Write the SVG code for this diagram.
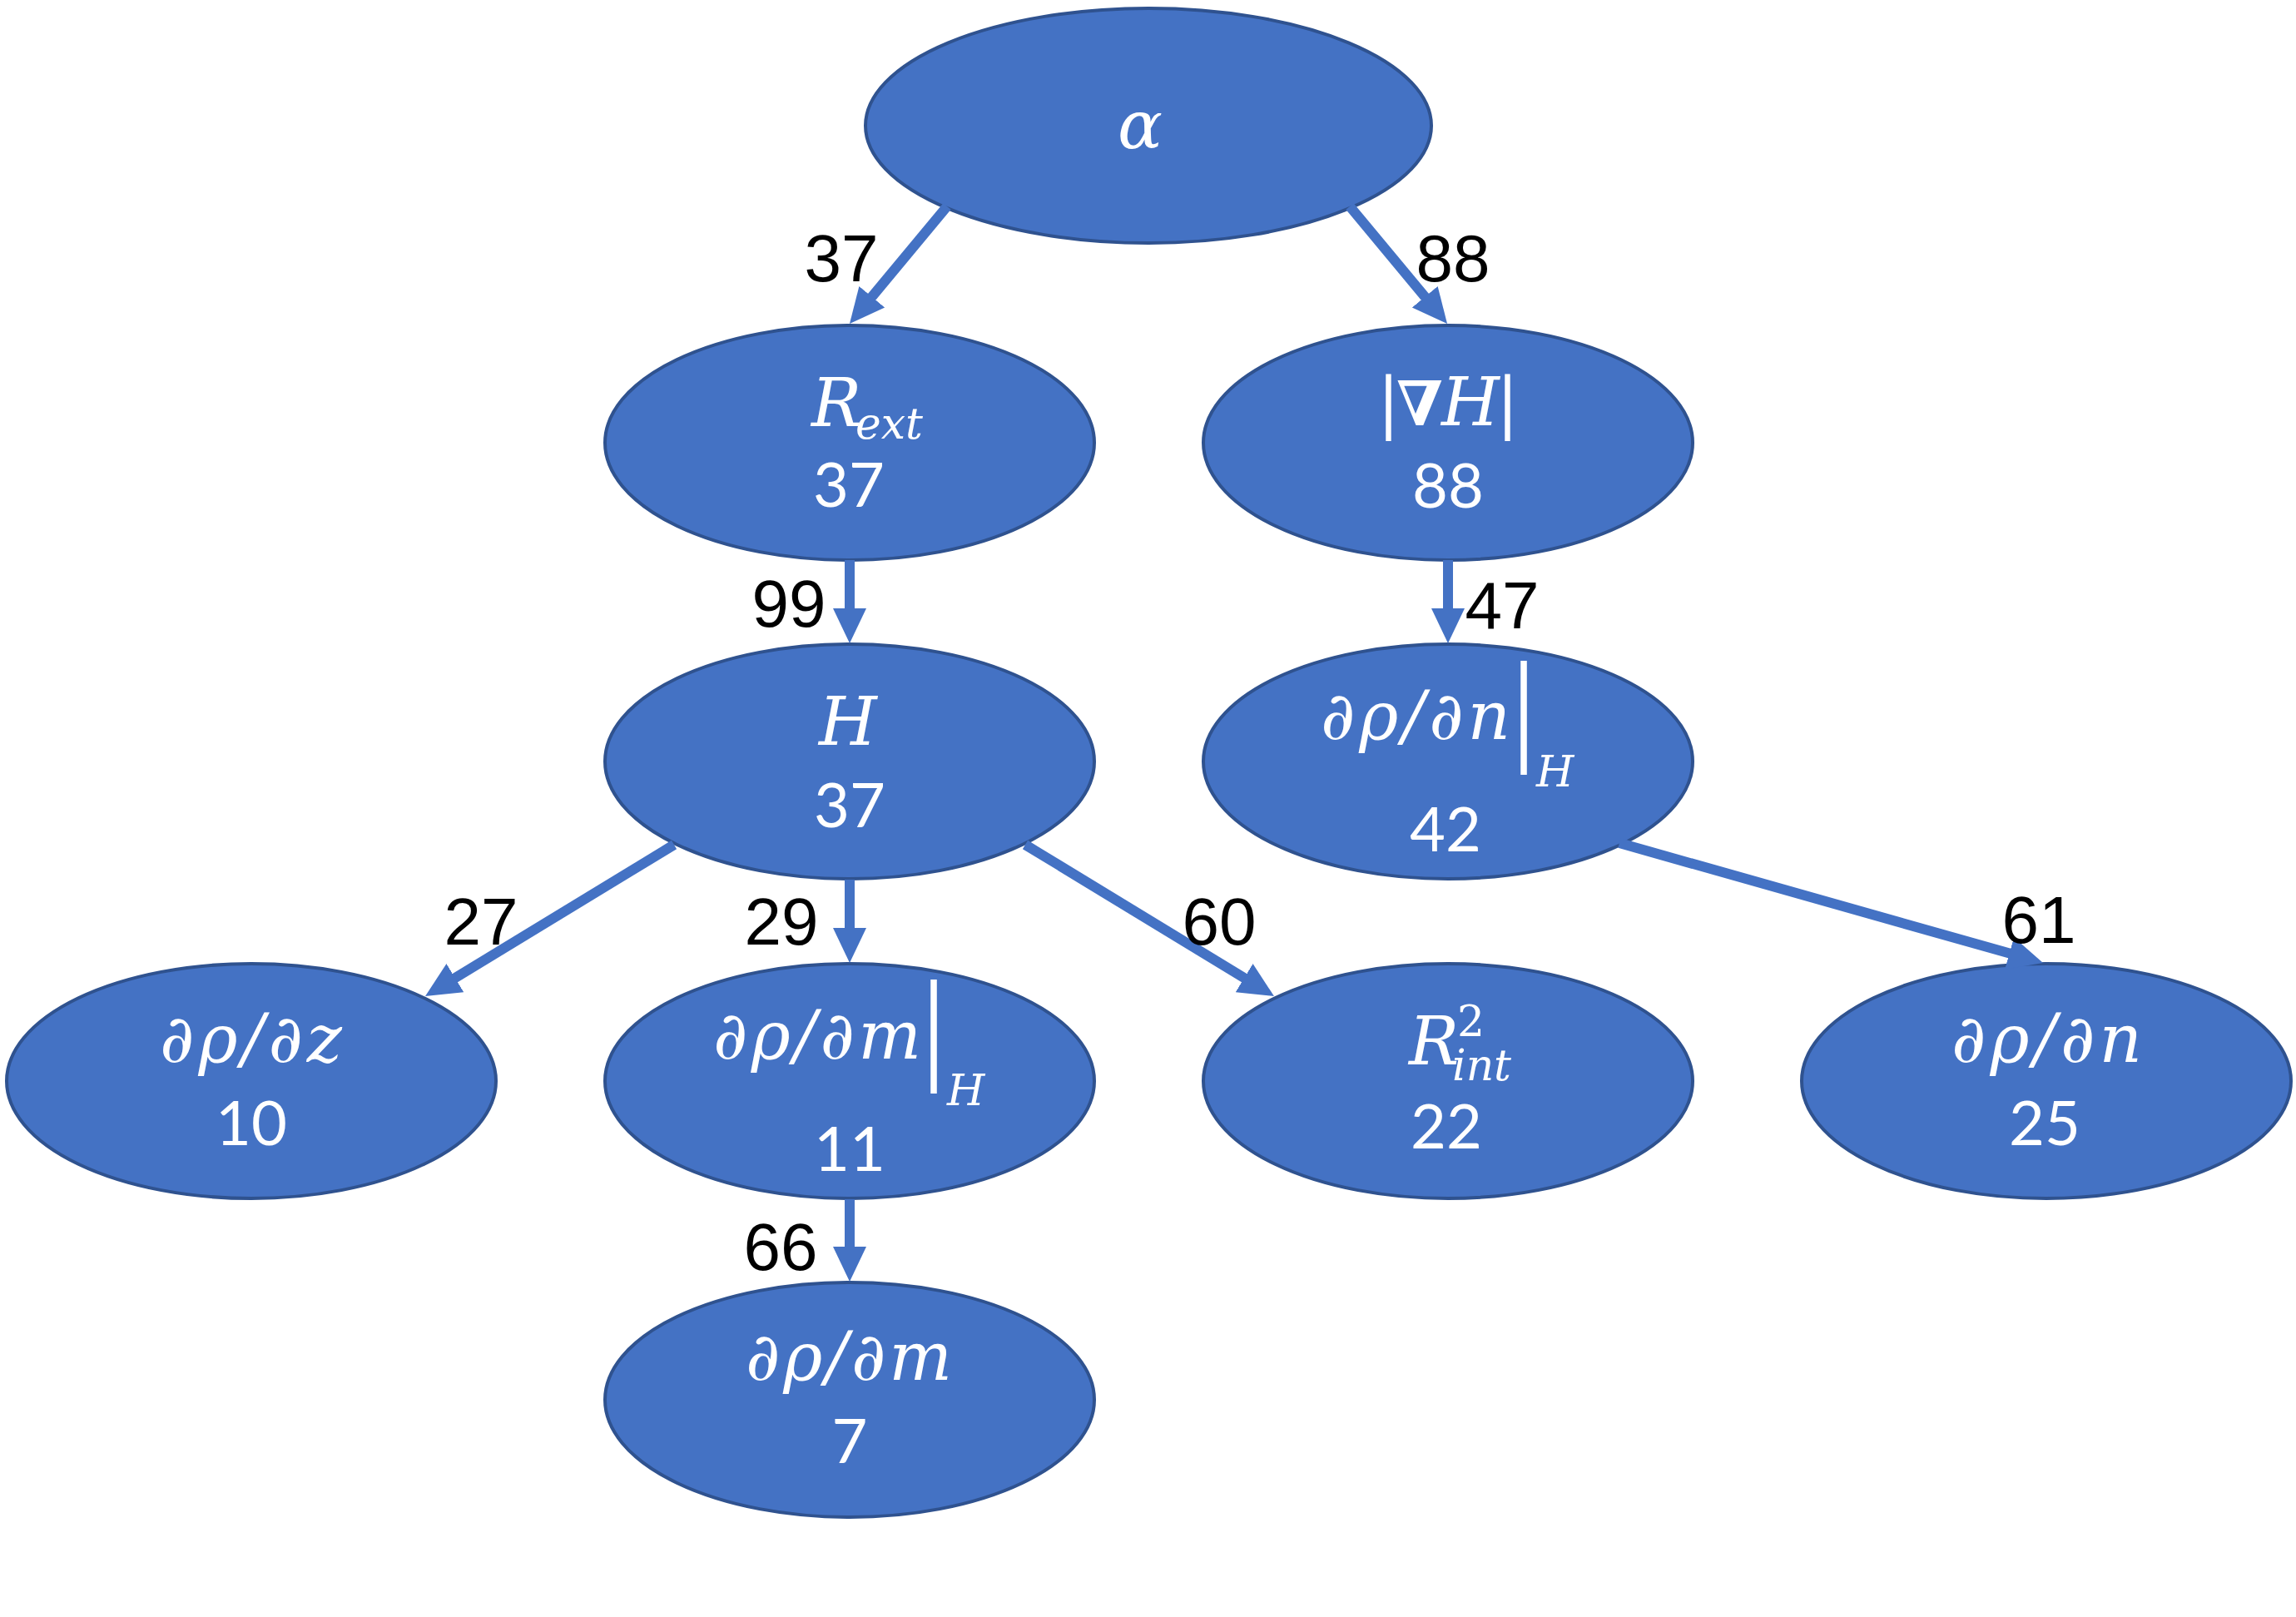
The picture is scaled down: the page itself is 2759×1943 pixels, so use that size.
<svg xmlns="http://www.w3.org/2000/svg" width="2759" height="1943" viewBox="0 0 2759 1943">
<style>
.node{fill:#4472C4;stroke:#2F528F;stroke-width:4}
.edge{stroke:#4472C4;stroke-width:12;fill:none}
.m{font-family:"DejaVu Serif","Liberation Serif",serif;font-style:italic;fill:#fff;font-size:80px}
.sub{font-size:52px;font-style:italic}
.u{font-style:normal}
.bar{font-family:"Liberation Serif","DejaVu Serif",serif;font-style:normal;font-size:150px}
.n{font-family:Lato,"Open Sans",sans-serif;fill:#fff;font-size:74px;text-anchor:middle}
.lbl{font-family:"Liberation Sans",Arial,sans-serif;fill:#000;font-size:80px;text-anchor:middle}
</style>
<defs>
<marker id="ah" markerUnits="userSpaceOnUse" markerWidth="42" markerHeight="42" viewBox="0 0 42 42" refX="2" refY="21" orient="auto">
<path d="M0,1 L42,21 L0,41 z" fill="#4472C4"/>
</marker>
</defs>
<rect width="2759" height="1943" fill="#fff"/>

<g id="n-alpha">
<ellipse class="node" cx="1380" cy="151" rx="340" ry="141"/>
<text class="m" x="1370" y="178" text-anchor="middle">α</text>
</g>
<g id="n-rext">
<ellipse class="node" cx="1021" cy="532" rx="294" ry="141"/>
<text class="m"><tspan x="975" y="512">R</tspan><tspan class="sub" x="1028" y="527">ext</tspan></text>
<text class="n" x="1020" y="609">37</text>
</g>
<g id="n-gradH">
<ellipse class="node" cx="1740" cy="532" rx="294" ry="141"/>
<text class="m" y="511"><tspan class="u" x="1655">|</tspan><tspan class="u" x="1678" font-size="74" font-weight="bold">∇</tspan><tspan x="1732">H</tspan><tspan class="u" x="1798">|</tspan></text>
<text class="n" x="1740" y="610">88</text>
</g>
<g id="n-H">
<ellipse class="node" cx="1021" cy="915" rx="294" ry="141"/>
<text class="m" x="1019" y="895" text-anchor="middle">H</text>
<text class="n" x="1021" y="994">37</text>
</g>
<g id="n-dpdnH">
<ellipse class="node" cx="1740" cy="915" rx="294" ry="141"/>
<text class="m" x="1587" y="888" textLength="228">∂ρ/∂n</text>
<text class="m"><tspan class="bar" x="1816" y="899">|</tspan><tspan class="sub" x="1846" y="945">H</tspan></text>
<text class="n" x="1737" y="1023">42</text>
</g>
<g id="n-dpdz">
<ellipse class="node" cx="302" cy="1299" rx="294" ry="141"/>
<text class="m" x="192" y="1276" textLength="219">∂ρ/∂z</text>
<text class="n" x="302" y="1376">10</text>
</g>
<g id="n-dpdmH">
<ellipse class="node" cx="1021" cy="1299" rx="294" ry="141"/>
<text class="m" x="857" y="1272" textLength="250">∂ρ/∂m</text>
<text class="m"><tspan class="bar" x="1107" y="1282">|</tspan><tspan class="sub" x="1138" y="1328">H</tspan></text>
<text class="n" x="1021" y="1407">11</text>
</g>
<g id="n-rint">
<ellipse class="node" cx="1740" cy="1299" rx="294" ry="141"/>
<text class="m"><tspan x="1693" y="1279">R</tspan><tspan class="sub u" x="1751" y="1245">2</tspan><tspan class="sub" x="1745" y="1298">int</tspan></text>
<text class="n" x="1738" y="1380">22</text>
</g>
<g id="n-dpdn">
<ellipse class="node" cx="2459" cy="1299" rx="294" ry="141"/>
<text class="m" x="2345" y="1276" textLength="229">∂ρ/∂n</text>
<text class="n" x="2457" y="1376">25</text>
</g>
<g id="n-dpdm">
<ellipse class="node" cx="1021" cy="1682" rx="294" ry="141"/>
<text class="m" x="896" y="1658" textLength="248">∂ρ/∂m</text>
<text class="n" x="1021" y="1758">7</text>
</g>

<g id="connectors">
<line class="edge" x1="1138" y1="248" x2="1046.5" y2="358.2" marker-end="url(#ah)"/>
<line class="edge" x1="1622" y1="248" x2="1713.5" y2="358.2" marker-end="url(#ah)"/>
<line class="edge" x1="1021" y1="673" x2="1021" y2="733" marker-end="url(#ah)"/>
<line class="edge" x1="1740" y1="673" x2="1740" y2="733" marker-end="url(#ah)"/>
<line class="edge" x1="810" y1="1015" x2="545.2" y2="1176.2" marker-end="url(#ah)"/>
<line class="edge" x1="1021" y1="1057" x2="1021" y2="1117" marker-end="url(#ah)"/>
<line class="edge" x1="1232" y1="1015" x2="1496.8" y2="1176.2" marker-end="url(#ah)"/>
<line class="edge" x1="1946" y1="1013" x2="2416.5" y2="1146.1" marker-end="url(#ah)"/>
<line class="edge" x1="1021" y1="1441" x2="1021" y2="1500" marker-end="url(#ah)"/>
<text class="lbl" x="1011" y="338">37</text>
<text class="lbl" x="1746" y="338">88</text>
<text class="lbl" x="948" y="753">99</text>
<text class="lbl" x="1805" y="755">47</text>
<text class="lbl" x="578" y="1135">27</text>
<text class="lbl" x="939" y="1135">29</text>
<text class="lbl" x="1465" y="1135">60</text>
<text class="lbl" x="2450" y="1133">61</text>
<text class="lbl" x="938" y="1526">66</text>
</g>
</svg>
